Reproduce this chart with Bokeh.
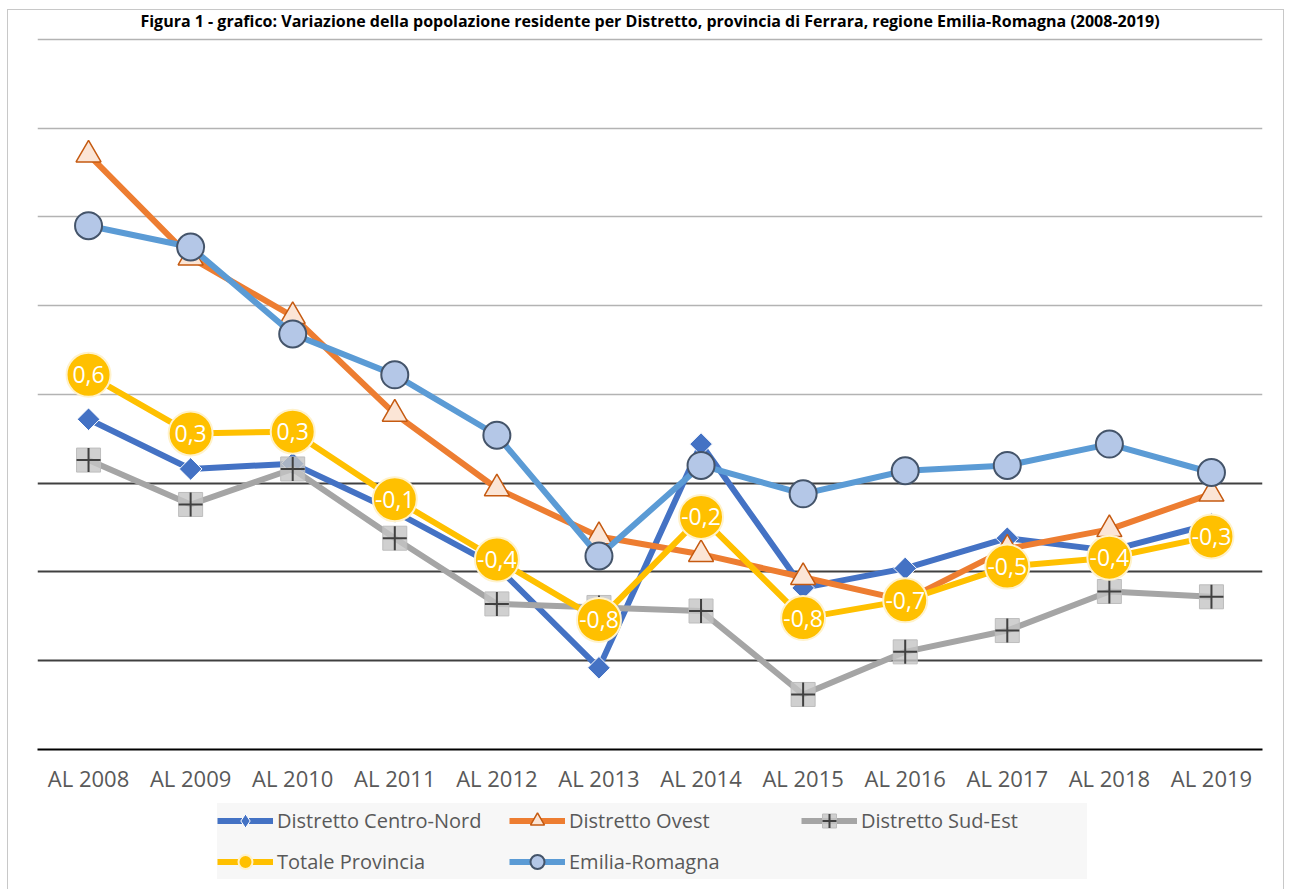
import math
from bokeh.plotting import figure
from bokeh.layouts import column
from bokeh.models import (FactorRange, Range1d, FixedTicker, Grid, Legend,
                          LegendItem)
from bokeh.core.properties import value
from bokeh.embed import file_html
from bokeh.resources import INLINE

# ---- dati ----
anni = ["AL 2008", "AL 2009", "AL 2010", "AL 2011", "AL 2012", "AL 2013",
        "AL 2014", "AL 2015", "AL 2016", "AL 2017", "AL 2018", "AL 2019"]
centro_nord = [0.36, 0.08, 0.11, -0.16, -0.47, -1.04, 0.22, -0.59, -0.48, -0.31, -0.38, -0.23]
ovest = [1.85, 1.27, 0.94, 0.39, -0.03, -0.30, -0.40, -0.53, -0.66, -0.37, -0.26, -0.06]
sud_est = [0.13, -0.12, 0.08, -0.31, -0.68, -0.70, -0.72, -1.19, -0.95, -0.83, -0.61, -0.64]
totale = [0.61, 0.28, 0.29, -0.09, -0.43, -0.77, -0.19, -0.76, -0.66, -0.47, -0.42, -0.30]
emilia = [1.45, 1.33, 0.84, 0.61, 0.27, -0.41, 0.10, -0.06, 0.07, 0.10, 0.22, 0.06]
nomi = ["Distretto Centro-Nord", "Distretto Ovest", "Distretto Sud-Est",
        "Totale Provincia", "Emilia-Romagna"]
titolo = ("Figura 1 - grafico: Variazione della popolazione residente per Distretto, "
          "provincia di Ferrara, regione Emilia-Romagna (2008-2019)")

etichette = [f"{v:.1f}".replace(".", ",") for v in totale]

FONT = "Open Sans"

# series styles
st_cn_line = dict(line_width=6, line_color="#4472C4", line_join="round")
st_cn_mark = dict(marker="square", angle=math.pi / 4, size=16,
                  fill_color="#4472C4", line_color="white", line_width=1)
st_cn_mark_leg = dict(marker="diamond", size=16,
                      fill_color="#4472C4", line_color="white", line_width=1)
st_ov_line = dict(line_width=6, line_color="#ED7D31", line_join="round")
st_ov_mark = dict(marker="triangle", size=25, fill_color="#FBE5D6",
                  line_color="#C55A11", line_width=1.5)
st_se_line = dict(line_width=6, line_color="#A5A5A5", line_join="round")
st_se_mark = dict(marker="square", size=24, fill_color="#c4c4c4", fill_alpha=0.8,
                  line_color="#bdbdbd", line_width=1)
st_se_cross = dict(marker="cross", size=24, line_color="#404040", line_width=2)
st_tp_line = dict(line_width=6, line_color="#FFC000", line_join="round")
st_tp_mark = dict(marker="circle", size=44, fill_color="#FFC000",
                  line_color="#FFF2CC", line_width=2)
st_er_line = dict(line_width=6, line_color="#5B9BD5", line_join="round")
st_er_mark = dict(marker="circle", size=27, fill_color="#B4C7E7",
                  line_color="#44546A", line_width=2)

# ---- main chart ----
p = figure(width=1291, height=800,
           x_range=FactorRange(*anni), y_range=Range1d(-1.5, 2.51),
           output_backend="svg", toolbar_location=None,
           min_border_left=37, min_border_right=29,
           min_border_top=37, min_border_bottom=51)
p.outline_line_color = None
p.background_fill_alpha = 0
p.border_fill_alpha = 0

p.title.text = titolo
p.title.align = "center"
p.title.text_font = FONT
p.title.text_font_size = "16px"
p.title.text_font_style = "bold"
p.title.text_color = "black"
p.title.standoff = 11

p.xgrid.visible = False
p.ygrid.ticker = FixedTicker(ticks=[0.5, 1.0, 1.5, 2.0, 2.5])
p.ygrid.grid_line_color = "#b3b3b3"
p.ygrid.grid_line_width = 1.5
p.add_layout(Grid(dimension=1, ticker=FixedTicker(ticks=[-1.0, -0.5, 0.0]),
                  grid_line_color="#404040", grid_line_width=2))

p.yaxis.visible = False
p.xaxis.axis_line_color = "black"
p.xaxis.axis_line_width = 2
p.xaxis.major_tick_line_color = None
p.xaxis.minor_tick_line_color = None
p.xaxis.major_label_text_font = FONT
p.xaxis.major_label_text_font_size = "22px"
p.xaxis.major_label_text_color = "#595959"
p.xaxis.major_label_standoff = 7


def draw(fig, cn_mark):
    r = {}
    r["cn"] = [fig.line(anni, centro_nord, **st_cn_line),
               fig.scatter(anni, centro_nord, **cn_mark)]
    r["ov"] = [fig.line(anni, ovest, **st_ov_line),
               fig.scatter(anni, ovest, **st_ov_mark)]
    r["se"] = [fig.line(anni, sud_est, **st_se_line),
               fig.scatter(anni, sud_est, **st_se_mark),
               fig.scatter(anni, sud_est, **st_se_cross)]
    tp_line = fig.line(anni, totale, **st_tp_line)
    r["er"] = [fig.line(anni, emilia, **st_er_line),
               fig.scatter(anni, emilia, **st_er_mark)]
    r["tp"] = [tp_line, fig.scatter(anni, totale, **st_tp_mark)]
    return r


draw(p, st_cn_mark)
p.text(anni, totale, text=etichette, text_color="white",
       text_font=value(FONT), text_font_size="23px",
       text_align="center", text_baseline="middle")

# ---- legend strip (its series fall outside its own y range) ----
q = figure(width=1291, height=89, x_range=FactorRange(*anni),
           y_range=Range1d(100, 101),
           output_backend="svg", toolbar_location=None,
           x_axis_type=None, y_axis_type=None,
           min_border_left=0, min_border_right=0, min_border_top=0, min_border_bottom=0)
q.outline_line_color = None
q.grid.visible = False
q.background_fill_alpha = 0
q.border_fill_alpha = 0

rq = draw(q, st_cn_mark_leg)
items = [
    LegendItem(label=nomi[0], renderers=rq["cn"]),
    LegendItem(label=nomi[1], renderers=rq["ov"]),
    LegendItem(label=nomi[2], renderers=rq["se"]),
    LegendItem(label=nomi[3], renderers=rq["tp"]),
    LegendItem(label=nomi[4], renderers=rq["er"]),
]
legend = Legend(items=items, location=(180, 10), orientation="horizontal", ncols=3)
legend.background_fill_color = "#f7f7f7"
legend.background_fill_alpha = 1
legend.border_line_color = None
legend.margin = 0
legend.padding = 6
legend.spacing = 6
legend.glyph_width = 56
legend.glyph_height = 35
legend.label_height = 35
legend.label_width = 226
legend.label_standoff = 4
legend.label_text_font = FONT
legend.label_text_font_size = "20px"
legend.label_text_color = "#595959"
q.add_layout(legend)

layout = column(p, q, spacing=0)
layout.styles = {
    "background-color": "white",
    "background-image": ("linear-gradient(#c8c8c8, #c8c8c8), "
                         "linear-gradient(#c8c8c8, #c8c8c8), "
                         "linear-gradient(#c8c8c8, #c8c8c8)"),
    "background-size": "1px 100%, 1277px 1px, 1px 100%",
    "background-position": "7px 9px, 7px 9px, 1283px 9px",
    "background-repeat": "no-repeat",
}

open("out.html", "w").write(file_html(layout, INLINE))
